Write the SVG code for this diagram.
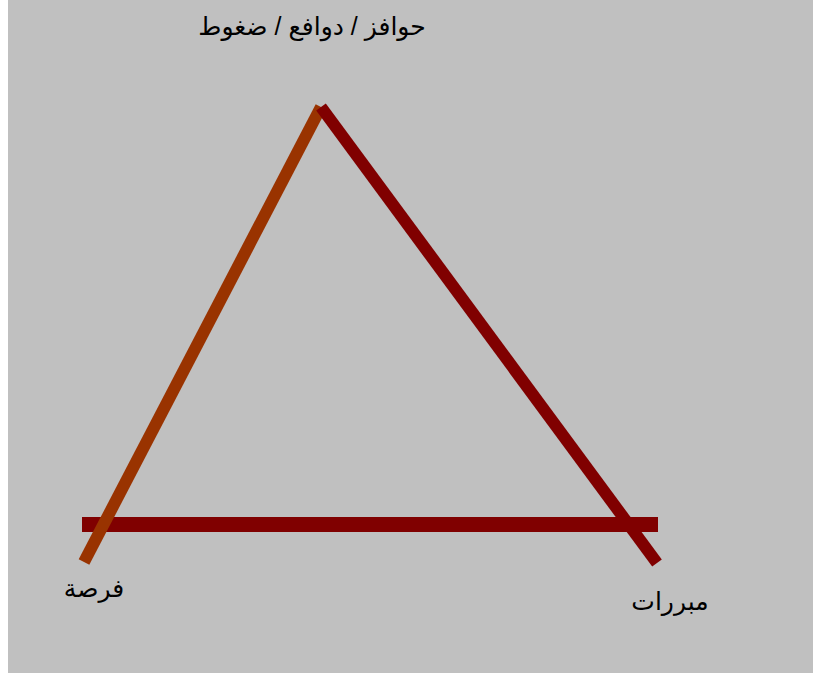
<svg xmlns="http://www.w3.org/2000/svg" width="813" height="675" viewBox="0 0 813 675">
<style>
.lbl{font-family:"Liberation Sans","DejaVu Sans",sans-serif;font-size:25px;fill:#000;text-anchor:middle}
.edge{stroke-width:12;fill:none}
</style>
<rect x="0" y="0" width="813" height="675" fill="#fff"/>
<rect x="8" y="0" width="805" height="673" fill="#c0c0c0"/>
<g id="connectors">
<rect x="82" y="517" width="576" height="15" fill="#800000"/>
<line class="edge" x1="84" y1="562" x2="321" y2="107" stroke="#993300"/>
<line class="edge" x1="321" y1="107" x2="657" y2="563" stroke="#800000"/>
</g>
<g id="node-top"><text class="lbl" x="312" y="35">حوافز / دوافع / ضغوط</text></g>
<g id="node-left"><text class="lbl" x="94" y="597">فرصة</text></g>
<g id="node-right"><text class="lbl" x="670" y="610">مبررات</text></g>
</svg>
